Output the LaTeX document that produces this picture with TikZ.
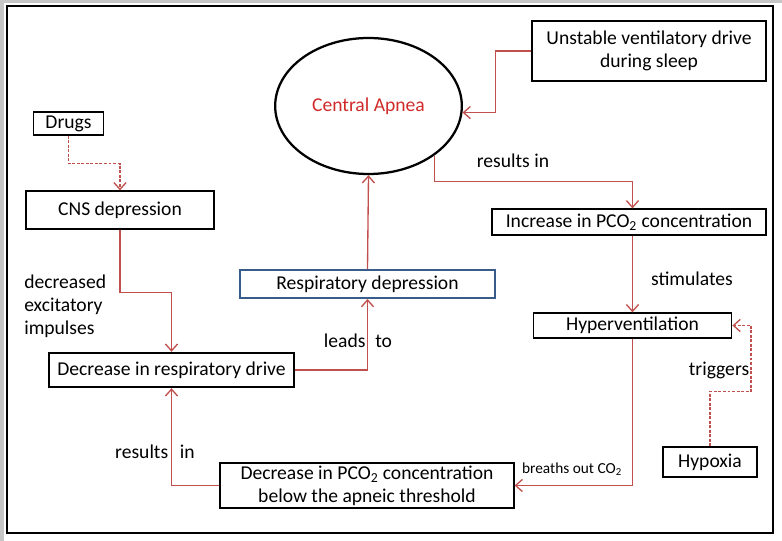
\documentclass[tikz,border=0pt]{standalone}
\usepackage{fontspec}
\setmainfont{Carlito}
\usetikzlibrary{arrows.meta,positioning,shapes.geometric}
\definecolor{linkred}{HTML}{C0504D}
\definecolor{apneared}{HTML}{D02A2A}
\definecolor{boxblue}{HTML}{385D8A}
\tikzset{box/.style={draw,line width=0.9pt,align=center,inner sep=1pt},
  thickbox/.style={box,line width=1.8pt},
  arr/.style={-{Straight Barb[length=1.8mm,width=3.2mm]},linkred,line width=1pt},
  darr/.style={arr,dashed,dash pattern=on 2.2pt off 1.2pt}}

\begin{document}
\begin{tikzpicture}[x=0.75pt,y=-0.75pt,font=\fontsize{14.7}{17.3}\selectfont,
  lbl/.style={inner sep=0pt,align=left}]
\useasboundingbox (0,0) rectangle (782,541);
% page frame
\draw[gray!45,line width=3pt] (1.5,541) -- (1.5,1) -- (782,1);
\draw[line width=1.8pt] (7,6) rectangle (773,533);
% nodes
\node[ellipse,draw,line width=1.7pt,inner sep=0pt,minimum width=140pt,minimum height=102pt,text=apneared] (apnea) at (368.5,106) {Central Apnea};
\node[thickbox,minimum width=175.5pt,minimum height=45pt] (unstable) at (649,51) {Unstable ventilatory drive\\during sleep};
\node[box,minimum width=53pt,minimum height=17.3pt] (drugs) at (68.5,123.5) {Drugs};
\node[box,minimum width=141pt,minimum height=28.5pt] (cns) at (120,210) {CNS depression};
\node[box,minimum width=205.5pt,minimum height=19.5pt] (increase) at (629,222) {Increase in PCO\textsubscript{2} concentration};
\node[box,draw=boxblue,line width=1.5pt,minimum width=191pt,minimum height=21pt] (respdep) at (367.5,284) {Respiratory depression};
\node[box,minimum width=149pt,minimum height=18.8pt] (hyperv) at (632.5,325.5) {Hyperventilation};
\node[thickbox,minimum width=184pt,minimum height=25.5pt] (drive) at (171.5,370) {Decrease in respiratory drive};
\node[box,minimum width=70.5pt,minimum height=22.5pt] (hypoxia) at (710,462) {Hypoxia};
\node[box,minimum width=220.5pt,minimum height=33.8pt] (pcodown) at (367,485.5) {Decrease in PCO\textsubscript{2} concentration\\below the apneic threshold};
% labels
\node[lbl,anchor=west] (lexcit) at (24,306) {decreased\\excitatory\\impulses};
\node[lbl] (llead) at (358,341) {leads\hspace{4pt} to};
\node[lbl] (lres1) at (513,161) {results in};
\node[lbl] (lstim) at (692,279) {stimulates};
\node[lbl] (ltrig) at (719,370) {triggers};
\node[lbl,font=\fontsize{11.5}{13}\selectfont] (lbreath) at (572,469) {breaths out CO\textsubscript{2}};
\node[lbl] (lres2) at (155,452) {results\hspace{5.5pt} in};
% connectors
\draw[darr] (drugs.south) -- ++(0,28) -| (cns.north);
\draw[arr] (cns.south) -- ++(0,63) -| (drive.north);
\draw[arr] (drive.east) -| (respdep.south);
\draw[arr] (respdep.north) -- (apnea.south);
\draw[arr] (unstable.west) -- ++(-35,0) |- (apnea.356);
\draw[arr] (apnea.323) -- ++(0,26) -| (hyperv.north |- increase.north);
\draw[arr] (hyperv.north |- increase.south) -- (hyperv.north);
\draw[arr] (hyperv.south) |- (pcodown.east);
\draw[darr] (hypoxia.north) -- ++(0,-55) -- ++(41,0) |- (hyperv.east);
\draw[arr] (pcodown.west) -| (drive.south);
\end{tikzpicture}
\end{document}
